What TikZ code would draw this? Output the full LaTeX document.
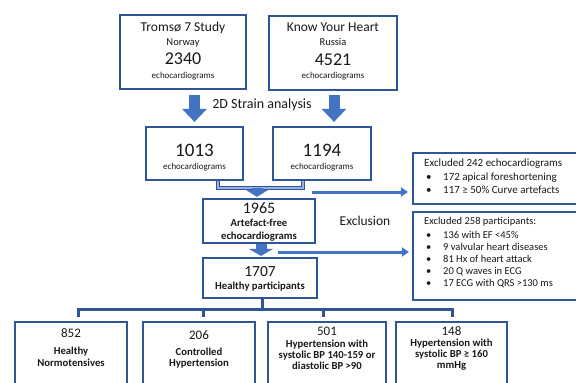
\documentclass[tikz,border=0pt]{standalone}
\usepackage{fontspec}
\setmainfont{Carlito}
\usetikzlibrary{arrows.meta,calc}
\definecolor{boxblue}{RGB}{47,85,151}
\definecolor{arrblue}{RGB}{68,114,196}
\newcommand\fsz[1]{\fontsize{#1}{#1}\selectfont}
\begin{document}
\begin{tikzpicture}[x=1pt,y=-1pt,
  box/.style={draw=boxblue,line width=2.2pt,fill=white,inner sep=0pt},
  txt/.style={inner sep=0pt,text=black!90,anchor=center},
  bigarrow/.style={color=arrblue,line width=11pt,-{Triangle[width=24pt,length=13pt]}},
  smallarrow/.style={color=arrblue,line width=11pt,-{Triangle[width=22pt,length=7pt]}},
  thinarrow/.style={color=arrblue,line width=3pt,-{Triangle[width=9pt,length=7pt]}},
  bracketline/.style={draw=boxblue,line width=1.2pt,double=arrblue!55!white,double distance=1.6pt},
  treeline/.style={draw=boxblue,line width=3pt}]
\path[use as bounding box] (0,0) rectangle (576,383);
\clip (0,0) rectangle (576,383);
\fill[white] (0,0) rectangle (576,383);

% top boxes
\node[box,minimum width=126pt,minimum height=74pt] (t7) at (183,52) {};
\node[txt,font=\fsz{13.5}] (t7a) at (183,28) {Tromsø 7 Study};
\node[txt,font=\fsz{10.5}] (t7b) at (183,43) {Norway};
\node[txt,font=\fsz{18}] (t7c) at (183,59) {2340};
\node[txt,font=\fsz{9}] (t7d) at (183,76) {echocardiograms};

\node[box,minimum width=128pt,minimum height=74pt] (kyh) at (333,53) {};
\node[txt,font=\fsz{13.5}] (kyha) at (333,27) {Know Your Heart};
\node[txt,font=\fsz{10.5}] (kyhb) at (333,42) {Russia};
\node[txt,font=\fsz{18}] (kyhc) at (333,60) {4521};
\node[txt,font=\fsz{9}] (kyhd) at (333,76) {echocardiograms};

\node[txt,font=\fsz{14}] (strain) at (262,105) {2D Strain analysis};

% second row
\node[box,minimum width=97pt,minimum height=53pt] (n1013) at (194.5,153.5) {};
\node[txt,font=\fsz{19}] (n1013a) at (194.5,150) {1013};
\node[txt,font=\fsz{9}] (n1013b) at (194.5,167) {echocardiograms};

\node[box,minimum width=98pt,minimum height=53pt] (n1194) at (322,153.5) {};
\node[txt,font=\fsz{19}] (n1194a) at (322,150) {1194};
\node[txt,font=\fsz{9}] (n1194b) at (322,167) {echocardiograms};

\draw[bigarrow] ($(t7.south -| n1013)+(0,5)$) -- ($(n1013.north)+(0,-4)$);
\draw[bigarrow] ($(kyh.south)+(1,4)$) -- ($(n1194.north)+(12,-4)$);

% artefact-free
\node[box,minimum width=112pt,minimum height=44pt] (n1965) at (259,221) {};
\node[txt,font=\fsz{16}] (n1965a) at (259,208) {1965};
\node[txt,font=\bfseries\fsz{10.7}] (n1965b) at (259,223) {Artefact-free};
\node[txt,font=\bfseries\fsz{10.7}] (n1965c) at (259,236.5) {echocardiograms};

\coordinate (bk) at (257,188);
\draw[bracketline] ($(n1013.south)+(23.5,0)$) |- (bk) -| ($(n1194.south)+(-19,0)$);
\draw[smallarrow] (bk) -- ($(n1965.north -| bk)+(0,-1)$);

\node[txt,font=\fsz{13.5}] (excl) at (365,221) {Exclusion};

% exclusion boxes
\node[box,minimum width=207pt,minimum height=51pt] (ex1) at (516.5,178.5) {};
\node[txt,anchor=north west,align=left,font=\fsz{11},
  execute at begin node={\setlength{\baselineskip}{13.5pt}}] (ex1t) at (424,159)
  {Excluded 242 echocardiograms\\
   \hspace*{2pt}\makebox[17pt][l]{\textbullet}172 apical foreshortening\\
   \hspace*{2pt}\makebox[17pt][l]{\textbullet}117 ≥ 50\% Curve artefacts};

\node[box,minimum width=207pt,minimum height=88pt] (ex2) at (516.5,256) {};
\node[txt,anchor=north west,align=left,font=\fsz{10.5},
  execute at begin node={\setlength{\baselineskip}{12pt}}] (ex2t) at (424,217.5)
  {Excluded 258 participants:\\[1.5pt]
   \hspace*{2pt}\makebox[17pt][l]{\textbullet}136 with EF <45\%\\
   \hspace*{2pt}\makebox[17pt][l]{\textbullet}9 valvular heart diseases\\
   \hspace*{2pt}\makebox[17pt][l]{\textbullet}81 Hx of heart attack\\
   \hspace*{2pt}\makebox[17pt][l]{\textbullet}20 Q waves in ECG\\
   \hspace*{2pt}\makebox[17pt][l]{\textbullet}17 ECG with QRS >130 ms};

\coordinate (a1) at (312,192);
\draw[thinarrow,shorten >=4pt] (a1) -- (a1 -| ex1.west);

% healthy participants
\node[box,minimum width=114pt,minimum height=40pt] (n1707) at (260,278) {};
\node[txt,font=\fsz{15.5}] (n1707a) at (260,272) {1707};
\node[txt,font=\bfseries\fsz{10.7}] (n1707b) at (260,287) {Healthy participants};

\draw[bigarrow,-{Triangle[width=24pt,length=7pt]}] ($(n1965.south)+(2,0)$) -- ($(n1707.north)+(1,-1)$);

\coordinate (a2) at (278,252);
\draw[thinarrow,shorten >=3pt] (a2) -- (a2 -| ex2.west);

% bottom boxes
\node[box,minimum width=112pt,minimum height=78pt] (b852) at (71,361) {};
\node[txt,font=\fsz{13}] (b852a) at (71,333) {852};
\node[txt,font=\bfseries\fsz{10.7},align=center,
  execute at begin node={\setlength{\baselineskip}{12pt}}] (b852b) at (71,356.5) {Healthy\\Normotensives};

\node[box,minimum width=112pt,minimum height=78pt] (b206) at (199,361) {};
\node[txt,font=\fsz{13}] (b206a) at (199,335) {206};
\node[txt,font=\bfseries\fsz{10.7},align=center,
  execute at begin node={\setlength{\baselineskip}{11.5pt}}] (b206b) at (199,358) {Controlled\\Hypertension};

\node[box,minimum width=118pt,minimum height=78pt] (b501) at (327,361) {};
\node[txt,font=\fsz{13}] (b501a) at (327,331) {501};
\node[txt,font=\bfseries\fsz{10.7},align=center,
  execute at begin node={\setlength{\baselineskip}{11pt}}] (b501b) at (327,355) {Hypertension with\\systolic BP 140-159 or\\diastolic BP >90};

\node[box,minimum width=111pt,minimum height=78pt] (b148) at (451.5,361) {};
\node[txt,font=\fsz{13}] (b148a) at (451.5,331) {148};
\node[txt,font=\bfseries\fsz{10.7},align=center,
  execute at begin node={\setlength{\baselineskip}{11pt}}] (b148b) at (451.5,355) {Hypertension with\\systolic BP ≥ 160\\mmHg};

% tree
\coordinate (hub) at ($(n1707.south)+(2,10)$);
\coordinate (d1) at ($(b852.north)+(7,-4)$);
\coordinate (d2) at ($(b206.north)+(4,-4)$);
\coordinate (d3) at ($(b501.north)+(-4,-4)$);
\coordinate (d4) at ($(b148.north)+(0.5,-4)$);
\draw[treeline] (n1707.south -| hub) -- (hub);
\draw[treeline] (d1) |- (hub) -| (d4);
\draw[treeline] (d2) -- (d2 |- hub);
\draw[treeline] (d3) -- (d3 |- hub);
\end{tikzpicture}
\end{document}
